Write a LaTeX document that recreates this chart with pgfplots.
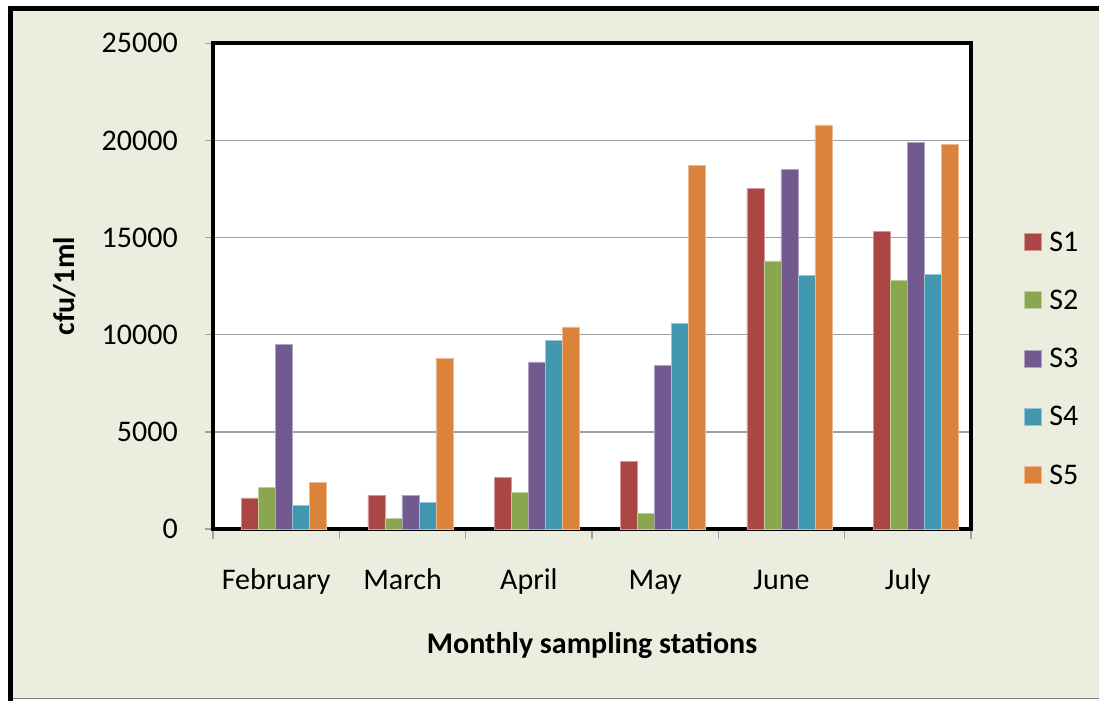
\documentclass[border=0pt]{standalone}
\usepackage{fontspec}
\setmainfont{Carlito}
\usepackage{pgfplots}
\pgfplotsset{compat=1.18}
\definecolor{bg}{RGB}{235,238,222}
\definecolor{cS1}{RGB}{170,71,68}
\definecolor{cS2}{RGB}{138,166,78}
\definecolor{cS3}{RGB}{114,89,143}
\definecolor{cS4}{RGB}{67,152,177}
\definecolor{cS5}{RGB}{219,130,59}
\definecolor{gridc}{RGB}{160,160,160}
\pgfplotsset{sqleg/.style={legend image code/.code={\fill[##1] (0pt,-6.375pt) rectangle (12.75pt,6.375pt);}}}
\begin{document}
\begin{tikzpicture}
\fontsize{22.5}{27}\selectfont
\useasboundingbox (0,0) rectangle (824.25pt,-525pt);
\fill[white] (0,0) rectangle (824.25pt,-525pt);
\fill[bg] (8.1pt,-6.2pt) rectangle (830pt,-524pt);
\draw[gray, line width=1pt] (8.1pt,-524pt) -- (830pt,-524pt);
\draw[black, line width=3.75pt] (8.1pt,-530pt) -- (8.1pt,-6.2pt) -- (830pt,-6.2pt);
\begin{axis}[
  at={(159.75pt,-396.75pt)}, anchor=south west,
  scale only axis, width=568.5pt, height=364.3pt,
  xmin=-0.5, xmax=5.5, ymin=0, ymax=25000,
  ybar=0pt, bar width=12.75pt,
  xtick={0,...,5}, xticklabels={February,March,April,May,June,July},
  minor xtick={-0.5,0.5,...,5.5},
  ytick={0,5000,...,25000},
  scaled y ticks=false,
  /pgf/number format/.cd, 1000 sep={}, assume math mode=true, /pgfplots/.cd,
  tick pos=left, tick align=outside,
  major tick length=6pt, minor tick length=7.5pt,
  tick style={gridc, line width=1pt},
  major x tick style={draw=none},
  ymajorgrids, grid style={gridc, line width=1.1pt},
  axis line style={black, line width=3pt},
  axis background/.style={fill=white},
  tick label style={font=\fontsize{22.5}{27}\selectfont, text=black},
  xticklabel style={anchor=base, yshift=-39pt},
  yticklabel style={anchor=east, inner xsep=0pt, xshift=-20.25pt},
  xlabel={Monthly sampling stations},
  ylabel={cfu/1ml},
  label style={font=\fontsize{22.5}{27}\selectfont\bfseries},
  xlabel style={at={(0.5,-0.2553)}, anchor=base},
  ylabel style={at={(-0.1953,0.5)}, anchor=center, rotate=0},
  legend style={draw=none, fill=none, at={(1.0647,0.6161)}, anchor=north west,
    row sep=29.65pt, column sep=5.5pt,
    nodes={inner sep=0pt, text height=14pt, text depth=0pt},
    font=\fontsize{22.5}{27}\selectfont},
  legend cell align=left,
]
\addplot[fill=cS1, draw=cS1!55!white, line width=0.5pt, sqleg] coordinates {(0.063,1600) (1.063,1750) (2.063,2650) (3.063,3500) (4.063,17550) (5.063,15300)};
\addplot[fill=cS2, draw=cS2!55!white, line width=0.5pt, sqleg] coordinates {(0.063,2150) (1.063,550) (2.063,1900) (3.063,800) (4.063,13800) (5.063,12800)};
\addplot[fill=cS3, draw=cS3!55!white, line width=0.5pt, sqleg] coordinates {(0.063,9500) (1.063,1750) (2.063,8600) (3.063,8400) (4.063,18500) (5.063,19900)};
\addplot[fill=cS4, draw=cS4!55!white, line width=0.5pt, sqleg] coordinates {(0.063,1200) (1.063,1350) (2.063,9700) (3.063,10600) (4.063,13050) (5.063,13100)};
\addplot[fill=cS5, draw=cS5!55!white, line width=0.5pt, sqleg] coordinates {(0.063,2400) (1.063,8800) (2.063,10400) (3.063,18700) (4.063,20800) (5.063,19800)};
\legend{S1,S2,S3,S4,S5}
\end{axis}
\end{tikzpicture}
\end{document}
